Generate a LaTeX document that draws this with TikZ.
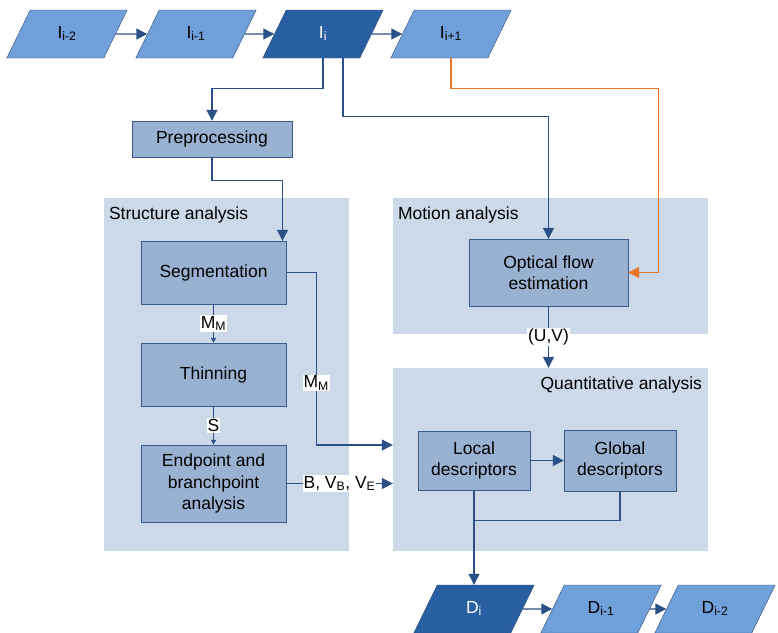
\documentclass[tikz,border=0pt]{standalone}
\usepackage{fontspec}
\setmainfont{Liberation Sans}
\usetikzlibrary{shapes.geometric,arrows.meta,positioning}

\definecolor{grpfill}{RGB}{204,217,232}
\definecolor{boxfill}{RGB}{154,178,210}
\definecolor{boxline}{RGB}{58,90,140}
\definecolor{framelight}{RGB}{112,160,218}
\definecolor{framedark}{RGB}{40,95,163}
\definecolor{frameline}{RGB}{47,75,120}
\definecolor{linkcol}{RGB}{42,80,135}
\definecolor{flowcol}{RGB}{232,118,40}

\tikzset{
  frame/.style={trapezium, trapezium left angle=64, trapezium right angle=116,
    draw=frameline, fill=framelight, text width=60pt, align=center,
    text height=12pt, text depth=4pt, inner xsep=6.8pt, inner ysep=16pt},
  curframe/.style={frame, fill=framedark, text=white},
  proc/.style={rectangle, draw=boxline, fill=boxfill, align=center, inner sep=2pt},
  group/.style={rectangle, fill=grpfill, inner sep=0pt},
  grouplabel/.style={inner sep=0pt},
  link/.style={draw=linkcol, line width=1.2pt, -{Triangle[width=11pt,length=11pt]}},
  smalllink/.style={draw=linkcol, line width=1.2pt, -{Triangle[width=5pt,length=5pt]}},
  orangelink/.style={link, draw=flowcol, -{Triangle[width=11pt,length=11pt,fill=flowcol]}},
  plainlink/.style={draw=linkcol, line width=1.2pt},
  flowlabel/.style={fill=white, inner sep=1pt},
}

\begin{document}
\begin{tikzpicture}[x=1pt, y=-1pt, font=\fontsize{17.5}{21.5}\selectfont]
        \useasboundingbox (0,0) rectangle (778,632);

        % Groups
        \node[group, minimum width=245pt, minimum height=353pt] (struct) at (226.5,374.5) {};
        \node[group, minimum width=315pt, minimum height=136pt] (motion) at (550.5,266) {};
        \node[group, minimum width=315pt, minimum height=183pt] (quant) at (550.5,459.5) {};
        \node[grouplabel, anchor=north west] (structlbl) at ([xshift=5pt,yshift=-9pt]struct.north west) {Structure analysis};
        \node[grouplabel, anchor=north west] (motionlbl) at ([xshift=5pt,yshift=-9pt]motion.north west) {Motion analysis};
        \node[grouplabel, anchor=north east] (quantlbl) at ([xshift=-6pt,yshift=-9pt]quant.north east) {Quantitative analysis};

        % Image sequence
        \node[frame] (im2) at (67,34) {I\textsubscript{i-2}};
        \node[frame] (im1) at (196,34) {I\textsubscript{i-1}};
        \node[curframe] (ic) at (323,34) {I\textsubscript{i}};
        \node[frame] (ip1) at (451,34) {I\textsubscript{i+1}};

        % Processing steps
        \node[proc, minimum width=160pt, minimum height=36pt] (pre) at (212,139) {Preprocessing};
        \node[proc, minimum width=145pt, minimum height=63pt] (seg) at (213.5,272.5) {Segmentation};
        \node[proc, minimum width=145pt, minimum height=63pt] (thin) at (213.5,374.5) {Thinning};
        \node[proc, minimum width=145pt, minimum height=77pt] (endp) at (213.5,483.5) {Endpoint and\\branchpoint\\analysis};
        \node[proc, minimum width=159pt, minimum height=67pt] (flow) at (548.5,272.5) {Optical flow\\estimation};
        \node[proc, minimum width=112pt, minimum height=59pt] (local) at (474,460.5) {Local\\descriptors};
        \node[proc, minimum width=112pt, minimum height=61pt] (global) at (620,460.5) {Global\\descriptors};

        % Descriptor sequence
        \node[curframe] (dc) at (474,609) {D\textsubscript{i}};
        \node[frame] (dm1) at (601,609) {D\textsubscript{i-1}};
        \node[frame] (dm2) at (715,609) {D\textsubscript{i-2}};

        % Connections
        \draw[link] (im2) -- (im1);
        \draw[link] (im1) -- (ic);
        \draw[link] (ic) -- (ip1);

        \draw[link] (ic.south) -- ++(0,30) -| (pre.north);
        \draw[link] ([xshift=20pt]ic.south) -- ++(0,58) -| (flow.north);
        \draw[orangelink] (ip1.south) -- ++(0,30) -| ([xshift=30pt]flow.east) -- (flow.east);

        \draw[link] (pre.south) -- ++(0,23) -| ([xshift=69pt]seg.north);
        \draw[smalllink] (seg) -- node[flowlabel] {M\textsubscript{M}} (thin);
        \draw[smalllink] (thin) -- node[flowlabel] {S} (endp);
        \draw[link] (seg.east) -- ++(30,0) |- node[flowlabel, pos=0.32] {M\textsubscript{M}} ([yshift=14.5pt]quant.west);
        \draw[link] (endp.east) -- node[flowlabel] {B, V\textsubscript{B}, V\textsubscript{E}} (endp.east -| quant.west);

        \draw[link] (flow.south) -- node[flowlabel] {(U,V)} (flow.south |- quant.north);
        \draw[link] (local) -- (global);
        \draw[plainlink] (global.south) |- ([yshift=-30pt]local.south);
        \draw[link] (local.south) -- (local.south |- dc.north);

        \draw[link] (dc) -- (dm1);
        \draw[link] (dm1) -- (dm2);
\end{tikzpicture}
\end{document}
